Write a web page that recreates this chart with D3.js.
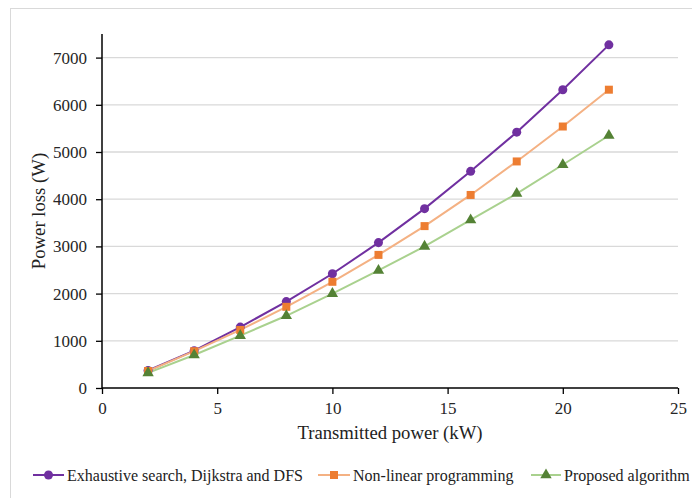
<!DOCTYPE html>
<html>
<head>
<meta charset="utf-8">
<script src="https://cdn.jsdelivr.net/npm/d3@7"></script>
<style>
  html, body { margin: 0; padding: 0; background: #fff; }
  svg { display: block; }
</style>
</head>
<body>
<svg id="chart" width="692" height="498"></svg>
<script>
// Transmitted power (kW) at each operating point
const transmittedPower = [2, 4, 6, 8, 10, 12, 14, 16, 18, 20, 22];

// Power loss (W) per method
const exhaustiveLoss = [370, 790, 1290, 1830, 2420, 3080, 3800, 4590, 5420, 6320, 7270];
const nonlinearLoss  = [360, 780, 1230, 1720, 2250, 2820, 3430, 4090, 4800, 5540, 6320];
const proposedLoss   = [320, 700, 1110, 1530, 2000, 2490, 3000, 3560, 4120, 4730, 5350];

const seriesNames = [
  "Exhaustive search, Dijkstra and DFS",
  "Non-linear programming",
  "Proposed algorithm"
];

const xTicks = [0, 5, 10, 15, 20, 25];
const yTicks = [0, 1000, 2000, 3000, 4000, 5000, 6000, 7000];

const FONT = "'Liberation Serif'";

const series = [
  { name: seriesNames[0], values: exhaustiveLoss, line: "#7030a0", mark: "#7030a0", shape: d3.symbolCircle, size: 64 },
  { name: seriesNames[1], values: nonlinearLoss,  line: "#f4b183", mark: "#ed7d31", shape: d3.symbolSquare, size: 64 },
  { name: seriesNames[2], values: proposedLoss,   line: "#a9d18e", mark: "#548235", shape: d3.symbolTriangle, size: 56 }
];

const svg = d3.select("#chart");

// chart frame
svg.append("rect")
  .attr("x", 10.5).attr("y", 8.5)
  .attr("width", 720).attr("height", 520)
  .attr("fill", "#fff")
  .attr("stroke", "#d9d9d9").attr("stroke-width", 1);

const plot = { left: 102, right: 678, top: 34, bottom: 388 };

const x = d3.scaleLinear().domain([0, 25]).range([plot.left, plot.right]);
const y = d3.scaleLinear().domain([0, 7500]).range([plot.bottom, plot.top]);

// horizontal gridlines
svg.append("g")
  .selectAll("line")
  .data(yTicks.filter(v => v > 0))
  .join("line")
  .attr("x1", plot.left).attr("x2", plot.right)
  .attr("y1", d => y(d)).attr("y2", d => y(d))
  .attr("stroke", "#d9d9d9").attr("stroke-width", 1.3);

// axes
const xAxis = svg.append("g")
  .attr("transform", `translate(0,${plot.bottom})`)
  .call(d3.axisBottom(x).tickValues(xTicks).tickFormat(d3.format("d"))
    .tickSize(6).tickSizeOuter(0).tickPadding(6));
const yAxis = svg.append("g")
  .attr("transform", `translate(${plot.left},0)`)
  .call(d3.axisLeft(y).tickValues(yTicks).tickFormat(d3.format("d"))
    .tickSize(6).tickSizeOuter(0).tickPadding(9));

[xAxis, yAxis].forEach(a => {
  a.attr("font-family", "Liberation Serif").attr("font-size", 17);
  a.select(".domain").attr("stroke", "#000").attr("stroke-width", 1.5);
  a.selectAll(".tick line").attr("stroke", "#000").attr("stroke-width", 1.3);
  a.selectAll(".tick text").attr("fill", "#262626");
});
yAxis.select(".domain").attr("d", `M0,${plot.bottom}V${plot.top}`);
xAxis.select(".domain").attr("d", `M${plot.left},0H${plot.right}`);
xAxis.selectAll(".tick text").attr("dy", "0.8em");

// axis titles
svg.append("text")
  .attr("x", 390).attr("y", 439)
  .attr("text-anchor", "middle")
  .attr("fill", "#222")
  .style("font-size", "18.7px")
  .text("Transmitted power (kW)");

svg.append("text")
  .attr("transform", `translate(45,211) rotate(-90)`)
  .attr("text-anchor", "middle")
  .attr("fill", "#222")
  .style("font-size", "18.7px")
  .text("Power loss (W)");

// series lines and markers
const line = d3.line()
  .x((d, i) => x(transmittedPower[i]))
  .y(d => y(d));

series.forEach(s => {
  svg.append("path")
    .datum(s.values)
    .attr("d", line)
    .attr("fill", "none")
    .attr("stroke", s.line)
    .attr("stroke-width", 2);
});

series.forEach(s => {
  const sym = d3.symbol().type(s.shape).size(s.size);
  svg.append("g")
    .selectAll("path")
    .data(s.values)
    .join("path")
    .attr("d", sym)
    .attr("transform", (d, i) => `translate(${x(transmittedPower[i])},${y(d)})`)
    .attr("fill", s.mark);
});

// legend
const legendItems = [
  { lx: 33, tx: 67 },
  { lx: 318, tx: 353 },
  { lx: 531, tx: 564 }
];
const legendY = 475;
series.forEach((s, i) => {
  const g = svg.append("g");
  const li = legendItems[i];
  g.append("line")
    .attr("x1", li.lx).attr("x2", li.tx - 3)
    .attr("y1", legendY).attr("y2", legendY)
    .attr("stroke", s.line).attr("stroke-width", 2);
  g.append("path")
    .attr("d", d3.symbol().type(s.shape).size(s.size)())
    .attr("transform", `translate(${(li.lx + li.tx - 3) / 2},${legendY})`)
    .attr("fill", s.mark);
  g.append("text")
    .attr("x", li.tx).attr("y", legendY)
    .attr("dy", "0.35em")
    .attr("fill", "#222")
    .style("font-size", "16px")
    .text(s.name);
});

svg.selectAll("text").style("font-family", FONT);
</script>
</body>
</html>
